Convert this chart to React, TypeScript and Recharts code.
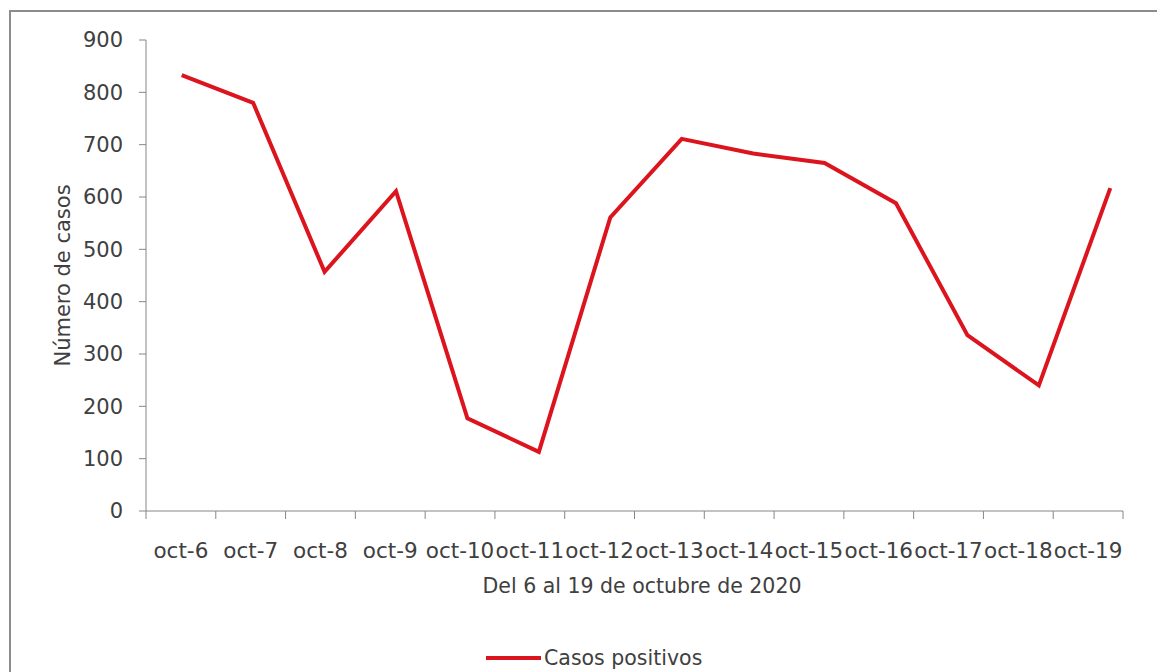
import React from "react";
import {
  LineChart,
  Line,
  XAxis,
  YAxis,
  Legend,
} from "recharts";

const days = [
  "oct-6", "oct-7", "oct-8", "oct-9", "oct-10", "oct-11", "oct-12",
  "oct-13", "oct-14", "oct-15", "oct-16", "oct-17", "oct-18", "oct-19",
];
const casosPositivos = [833, 780, 457, 611, 177, 113, 561, 711, 683, 665, 588, 336, 240, 617];
const yTicks = [0, 100, 200, 300, 400, 500, 600, 700, 800, 900];

const data = days.map((d, i) => ({ day: d, casos: casosPositivos[i] }));

const FONT = "'DejaVu Sans', sans-serif";
const TEXT = "#404040";
const AXIS = "#868686";
const RED = "#dc141e";

const CHART_W = 1152;
const CHART_H = 660;
const margin = { top: 28, right: 17, bottom: 61, left: 0 };
const Y_W = 135;

// ticks sit between categories, like the spreadsheet chart; the axis line is drawn here too
const XTick = (props: any) => {
  const { x, y, payload, index } = props;
  const half = payload.offset ?? 35;
  const axisY = y - 8;
  return (
    <g>
      <line x1={x - half} y1={axisY} x2={x + half} y2={axisY} stroke={AXIS} />
      <line x1={x - half} y1={axisY} x2={x - half} y2={axisY + 8} stroke={AXIS} />
      {index === days.length - 1 && (
        <line x1={x + half} y1={axisY} x2={x + half} y2={axisY + 8} stroke={AXIS} />
      )}
      <text x={x} y={axisY + 47} textAnchor="middle" fill={TEXT} fontSize={21.5} fontFamily={FONT}>
        {payload.value}
      </text>
    </g>
  );
};

const LegendContent = () => (
  <div style={{ display: "flex", alignItems: "center", fontFamily: FONT, fontSize: 20.5, color: TEXT }}>
    <svg width={58} height={10}>
      <line x1={0} y1={5} x2={55} y2={5} stroke={RED} strokeWidth={4} />
    </svg>
    <span>Casos positivos</span>
  </div>
);

export default function App() {
  return (
    <div
      style={{
        marginTop: 2,
        marginLeft: 1,
        width: 1152,
        height: 660,
        borderTop: "2px solid #8c8c8c",
        borderLeft: "2px solid #8c8c8c",
        borderRight: "1px solid #d8d8d8",
        background: "#fff",
      }}
    >
      <style>{"body{overflow:hidden}"}</style>
      <LineChart width={CHART_W} height={CHART_H} data={data} margin={margin}>
        <XAxis
          dataKey="day"
          scale="band"
          height={100}
          axisLine={false}
          tickLine={false}
          tickSize={8}
          tickMargin={0}
          interval={0}
          padding={{ left: 0, right: 23 }}
          tick={<XTick />}
          label={{
            value: "Del 6 al 19 de octubre de 2020",
            position: "insideTop",
            offset: 67,
            dx: -4,
            fill: TEXT,
            fontSize: 20.5,
            fontFamily: FONT,
          }}
        />
        <XAxis xAxisId="line" dataKey="day" scale="band" hide />
        <YAxis
          width={Y_W}
          domain={[0, 900]}
          ticks={yTicks}
          interval={0}
          stroke={AXIS}
          tickSize={7}
          tickMargin={16}
          tick={{ fill: TEXT, fontSize: 21, fontFamily: FONT }}
          label={{
            value: "Número de casos",
            angle: -90,
            position: "center",
            dx: -16,
            fill: TEXT,
            fontSize: 21,
            fontFamily: FONT,
          }}
        />
        <Legend
          layout="horizontal"
          verticalAlign="middle"
          align="center"
          content={<LegendContent />}
          wrapperStyle={{ position: "absolute", left: 475, top: 634, width: "auto" }}
        />
        <Line
          xAxisId="line"
          type="linear"
          dataKey="casos"
          name="Casos positivos"
          stroke={RED}
          strokeWidth={4}
          dot={false}
          activeDot={false}
          isAnimationActive={false}
        />
      </LineChart>
    </div>
  );
}
